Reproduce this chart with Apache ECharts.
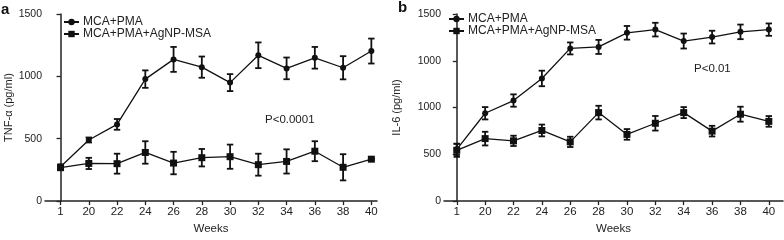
<!DOCTYPE html>
<html><head><meta charset="utf-8">
<script src="https://cdn.jsdelivr.net/npm/echarts@6/dist/echarts.min.js"></script>
<style>html,body{margin:0;padding:0;background:#fff}#c{width:784px;height:240px}</style>
</head><body><div id="c"></div>
<script>
// ---- data ----
const weeks = ['1','20','22','24','26','28','30','32','34','36','38','40'];
// Panel a: TNF-α (pg/ml)
const aPma      = [275, 490, 615, 978, 1136, 1074, 950, 1169, 1064, 1149, 1069, 1203];
const aPmaErr   = [20, 20, 43, 70, 100, 85, 68, 103, 87, 87, 93, 100];
const aAg       = [268, 302, 300, 390, 305, 348, 356, 292, 318, 400, 271, 336];
const aAgErr    = [18, 45, 80, 90, 90, 70, 97, 88, 97, 80, 105, 8];
const aYTicks   = ['0','500','1000','1500'];
// Panel b: IL-6 (pg/ml) — values in axis units (axis tick labels as printed in the figure)
const bPma      = [553, 939, 1075, 1311, 1632, 1648, 1799, 1833, 1711, 1753, 1809, 1833];
const bPmaErr   = [60, 66, 66, 83, 64, 75, 73, 73, 80, 68, 78, 66];
const bAg       = [543, 668, 644, 755, 633, 946, 713, 832, 946, 748, 929, 852];
const bAgErr    = [70, 73, 55, 63, 55, 73, 57, 78, 59, 57, 80, 57];
const bYTicks   = ['0','500','1000','1000','1500'];
const names = ['MCA+PMA', 'MCA+PMA+AgNP-MSA'];

const FONT = 'Liberation Sans, Arial, sans-serif';
const TXT = '#222';

function xy(vals){ return vals.map((v,i)=>[i,v]); }
function errData(vals, errs){ return vals.map((v,i)=>[i, v-errs[i], v+errs[i]]); }
function errSeries(vals, errs, xi, yi){
  return {
    type:'custom', xAxisIndex:xi, yAxisIndex:yi, silent:true, z:3,
    data: errData(vals, errs),
    renderItem(params, api){
      const x = api.value(0);
      const lo = api.coord([x, api.value(1)]);
      const hi = api.coord([x, api.value(2)]);
      const w = 3.2;
      const st = {stroke:'#111', lineWidth:1.8};
      return {type:'group', children:[
        {type:'line', shape:{x1:lo[0],y1:lo[1],x2:hi[0],y2:hi[1]}, style:st},
        {type:'line', shape:{x1:lo[0]-w,y1:lo[1],x2:lo[0]+w,y2:lo[1]}, style:st},
        {type:'line', shape:{x1:hi[0]-w,y1:hi[1],x2:hi[0]+w,y2:hi[1]}, style:st}
      ]};
    }
  };
}
function lineSeries(name, vals, sym, size, xi, yi){
  return {
    type:'line', name, xAxisIndex:xi, yAxisIndex:yi, data: xy(vals),
    symbol:sym, symbolSize:size, z:4,
    lineStyle:{color:'#111', width:1.3}, itemStyle:{color:'#111'},
    emphasis:{disabled:true}, animation:false
  };
}
function xAxis(gi, min, max){
  const idx = weeks.map((_,i)=>i);
  return {
    type:'value', gridIndex:gi, min, max,
    axisLine:{show:true, onZero:false, lineStyle:{color:'#222', width:1.5}},
    axisTick:{show:true, customValues: idx, length:4, lineStyle:{color:'#222', width:1.3}},
    axisLabel:{customValues: idx, formatter:v=>weeks[Math.round(v)], color:TXT, fontSize:11.5, fontFamily:FONT, margin:5},
    splitLine:{show:false},
    name:'Weeks', nameLocation:'middle', nameGap:19,
    nameTextStyle:{color:TXT, fontSize:11.5, fontFamily:FONT}
  };
}
function yAxis(gi, max, labels, title, gap){
  return {
    type:'value', gridIndex:gi, min:0, max, interval:500,
    axisLine:{show:true, lineStyle:{color:'#222', width:1.5}},
    axisTick:{show:true, length:4, lineStyle:{color:'#222', width:1.3}},
    axisLabel:{formatter:v=>labels[Math.round(v/500)], color:TXT, fontSize:10.5, fontFamily:FONT, margin:3},
    splitLine:{show:false},
    name:title, nameLocation:'middle', nameGap:gap, nameRotate:90,
    nameTextStyle:{color:TXT, fontSize:11, fontFamily:FONT}
  };
}
function legend(left, top){
  return {
    orient:'vertical', left, top, itemGap:0, itemWidth:15, itemHeight:8,
    data:names, selectedMode:false,
    textStyle:{color:TXT, fontSize:12, fontFamily:FONT, padding:[0,0,0,-1]}
  };
}

const chart = echarts.init(document.getElementById('c'), null, {renderer:'canvas'});
chart.setOption({
  animation:false,
  backgroundColor:'#fff',
  grid:[
    {left:45, top:14, width:332, height:194},
    {left:444, top:14, width:339, height:192}
  ],
  xAxis:[ xAxis(0, -0.55, 11.2), xAxis(1, -0.45, 11.5) ],
  yAxis:[ yAxis(0, 1500, aYTicks, 'TNF-α (pg/ml)', 31), yAxis(1, 2000, bYTicks, 'IL-6 (pg/ml)', 42) ],
  legend:[ legend(58, 11), legend(443, 8) ],
  graphic:[
    {type:'text', left:1, top:2, style:{text:'a', font:'bold 15px '+FONT, fill:'#111'}},
    {type:'text', left:398, top:0, style:{text:'b', font:'bold 15px '+FONT, fill:'#111'}},
    {type:'text', left:265, top:114, style:{text:'P<0.0001', font:'11.5px '+FONT, fill:TXT}},
    {type:'text', left:694, top:63, style:{text:'P<0.01', font:'11.5px '+FONT, fill:TXT}}
  ],
  series:[
    errSeries(aPma, aPmaErr, 0, 0), errSeries(aAg, aAgErr, 0, 0),
    lineSeries(names[0], aPma, 'circle', 6, 0, 0),
    lineSeries(names[1], aAg, 'rect', 7, 0, 0),
    errSeries(bPma, bPmaErr, 1, 1), errSeries(bAg, bAgErr, 1, 1),
    lineSeries(names[0], bPma, 'circle', 6, 1, 1),
    lineSeries(names[1], bAg, 'rect', 7, 1, 1)
  ]
});
</script></body></html>
